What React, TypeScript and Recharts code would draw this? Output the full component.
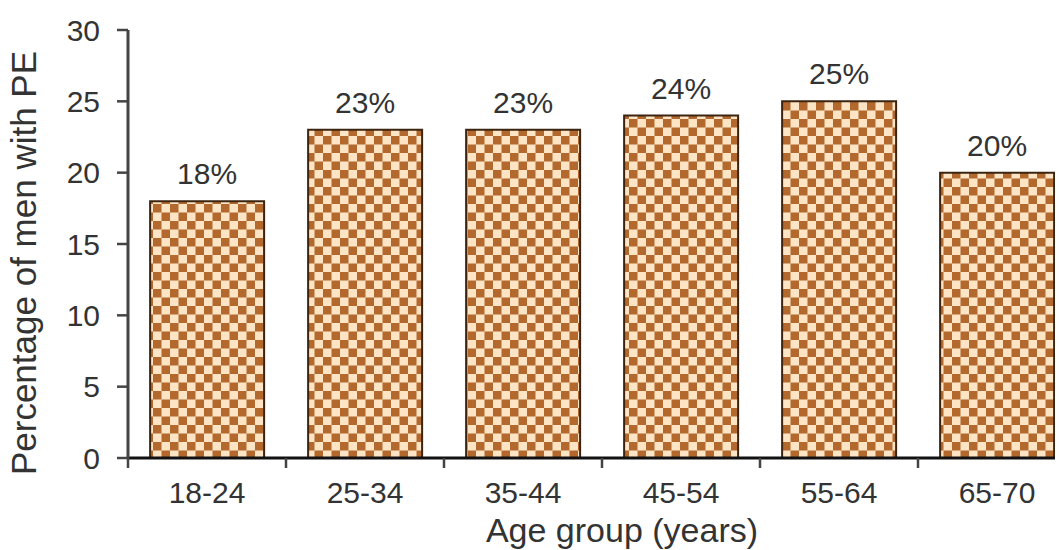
import { BarChart, Bar, XAxis, YAxis, LabelList, Label } from 'recharts'

const ageGroups = ['18-24', '25-34', '35-44', '45-54', '55-64', '65-70']
const pePercent = [18, 23, 23, 24, 25, 20]
const yTicks = [0, 5, 10, 15, 20, 25, 30]

const data = ageGroups.map((group, i) => ({ group, value: pePercent[i] }))

const FONT = '"Liberation Sans", Arial, Helvetica, sans-serif'
const TEXT = '#333'

// category label centred in the band, tick mark on the band's left boundary
function AgeTick(props: any) {
  const { x, y, payload } = props
  const half = payload?.offset ?? 0
  return (
    <g>
      <line x1={x - half} y1={y} x2={x - half} y2={y + 10} stroke="#444" strokeWidth={2.5} />
      <text x={x} y={y + 45} textAnchor="middle" fontSize={30} fill={TEXT} fontFamily={FONT}>
        {payload.value}
      </text>
    </g>
  )
}

function YTitle(props: any) {
  const vb = props.viewBox
  const cx = vb.x + 36
  const cy = vb.y + vb.height / 2 + 19
  return (
    <text
      x={cx}
      y={cy}
      transform={`rotate(-90 ${cx} ${cy})`}
      textAnchor="middle"
      fontSize={35}
      fill={TEXT}
      fontFamily={FONT}
    >
      Percentage of men with PE
    </text>
  )
}

function XTitle(props: any) {
  const vb = props.viewBox
  return (
    <text
      x={vb.x + vb.width / 2 + 20}
      y={vb.y + 84}
      textAnchor="middle"
      fontSize={34}
      fill={TEXT}
      fontFamily={FONT}
    >
      Age group (years)
    </text>
  )
}

export default function App() {
  return (
    <div
      style={{
        position: 'absolute',
        left: 0,
        top: 0,
        width: 1055,
        height: 550,
        overflow: 'hidden',
        background: '#fff',
      }}
    >
      <BarChart
        width={1076}
        height={550}
        data={data}
        margin={{ top: 30, right: 0, bottom: 0, left: 0 }}
        barCategoryGap="14%"
      >
        <defs>
          <pattern id="checker" width={17} height={17} patternUnits="userSpaceOnUse">
            <rect width={17} height={17} fill="#fce4c4" />
            <rect x={0} y={0} width={8.5} height={8.5} fill="#b3692e" />
            <rect x={8.5} y={8.5} width={8.5} height={8.5} fill="#b3692e" />
          </pattern>
        </defs>
        <XAxis
          dataKey="group"
          height={92}
          tickSize={0}
          tickMargin={0}
          tick={<AgeTick />}
          axisLine={{ stroke: '#111', strokeWidth: 3 }}
          interval={0}
        >
          <Label content={<XTitle />} />
        </XAxis>
        <YAxis
          width={128}
          domain={[0, 30]}
          ticks={yTicks}
          tickSize={11}
          tickMargin={17}
          tick={{ fontSize: 30, fill: TEXT, fontFamily: FONT }}
          tickLine={{ stroke: '#444', strokeWidth: 2.5 }}
          axisLine={{ stroke: '#444', strokeWidth: 3 }}
        >
          <Label content={<YTitle />} />
        </YAxis>
        <Bar
          dataKey="value"
          fill="url(#checker)"
          stroke="#3d2410"
          strokeWidth={2}
          isAnimationActive={false}
        >
          <LabelList
            dataKey="value"
            position="top"
            offset={17}
            formatter={(v: any) => `${v}%`}
            style={{ fontSize: 30, fill: TEXT, fontFamily: FONT }}
          />
        </Bar>
      </BarChart>
    </div>
  )
}
